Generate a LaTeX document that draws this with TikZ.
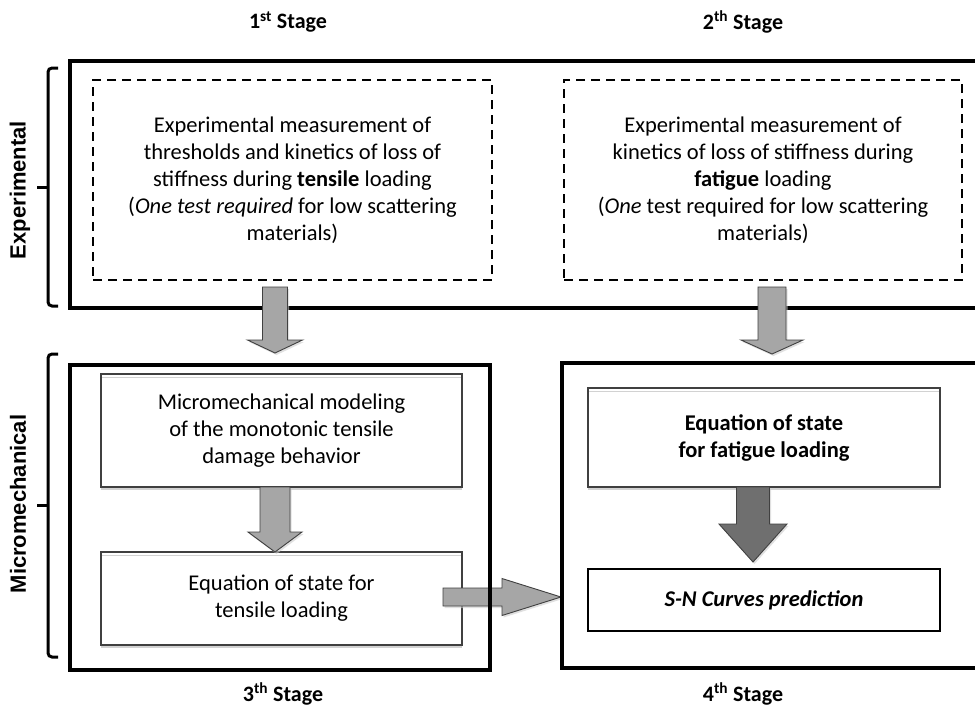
\documentclass[tikz,border=0pt]{standalone}
\usepackage{fontspec}
\setmainfont{Carlito}
\newfontfamily\sidefont{Liberation Sans}
\usetikzlibrary{calc,shadows}

\definecolor{arrowgray}{HTML}{A6A6A6}
\definecolor{arrowdark}{HTML}{6F6F6F}
\definecolor{edgegray}{HTML}{404040}

\newcommand\boxfont{\fontsize{22.5}{27}\selectfont}

% block arrows: [style]{from}{to}{half shaft}{half head}{head length}
\newcommand\vblock[6][blockarrow]{%
  \draw[#1] let \p1=(#2), \p2=(#3) in
    (\x1-#4,\y1) -- (\x1+#4,\y1) -- (\x1+#4,\y2+#6) -- (\x1+#5,\y2+#6) -- (\x1,\y2)
    -- (\x1-#5,\y2+#6) -- (\x1-#4,\y2+#6) -- cycle;}
\newcommand\hblock[6][blockarrow]{%
  \draw[#1] let \p1=(#2), \p2=(#3) in
    (\x1,\y1+#4) -- (\x2-#6,\y1+#4) -- (\x2-#6,\y1+#5) -- (\x2,\y1)
    -- (\x2-#6,\y1-#5) -- (\x2-#6,\y1-#4) -- (\x1,\y1-#4) -- cycle;}
% side bracket: {top end}{bottom end}
\newcommand\sidebracket[2]{%
  \draw[bracket, rounded corners=4pt] let \p1=(#1), \p2=(#2) in
    (\x1,\y1) -- (\x1-10pt,\y1) -- (\x1-10pt,\y2) -- (\x2,\y2);
  \draw[bracket] let \p1=(#1), \p2=(#2) in
    (\x1-10pt,{(\y1+\y2)/2}) -- (\x1-21pt,{(\y1+\y2)/2});}

\tikzset{
  frame/.style={draw, line width=3.5pt, inner sep=0pt},
  testbox/.style={draw, dashed, dash pattern=on 9pt off 6pt, line width=2pt,
    inner sep=0pt, align=center, font=\boxfont},
  modelbox/.style={draw=edgegray, line width=1.2pt, fill=white, inner sep=0pt,
    align=center, font=\boxfont,
    drop shadow={shadow xshift=0pt, shadow yshift=-3pt, fill=gray!35, opacity=1},
    path picture={\draw[gray!35, line width=1pt]
      ([yshift=-3.5pt]path picture bounding box.north west) --
      ([yshift=-3.5pt]path picture bounding box.north east);}},
  resultbox/.style={draw, line width=2pt, fill=white, inner sep=0pt, align=center,
    font=\boxfont\bfseries\itshape},
  blockarrow/.style={draw=edgegray, line width=0.9pt, fill=arrowgray,
    drop shadow={shadow xshift=1.5pt, shadow yshift=-2pt, fill=gray!40, opacity=0.6}},
  darkarrow/.style={blockarrow, fill=arrowdark},
  stage/.style={font=\fontsize{22}{26}\selectfont\bfseries},
  side/.style={font=\sidefont\fontsize{22}{26}\selectfont\bfseries, rotate=90},
  bracket/.style={line width=3pt}
}

\begin{document}
\begin{tikzpicture}[x=1pt, y=-1pt]
\clip (0,0) rectangle (975,710);
\fill[white] (0,0) rectangle (975,710);

% stages
\node[stage] (stI)   at (288,22)  {1\textsuperscript{st} Stage};
\node[stage] (stII)  at (743,22)  {2\textsuperscript{th} Stage};
\node[stage] (stIII) at (283,694) {3\textsuperscript{th} Stage};
\node[stage] (stIV)  at (743,694) {4\textsuperscript{th} Stage};

% experimental part
\node[frame, minimum width=930, minimum height=247] (expFrame) at (535,184.5) {};
\node[testbox, minimum width=399, minimum height=200] (tensTest) at (292.5,180)
  {Experimental measurement of\\ thresholds and kinetics of loss of\\
   stiffness during \textbf{tensile} loading\\
   (\textit{One test required} for low scattering\\ materials)};
\node[testbox, minimum width=398, minimum height=200] (fatTest) at (763,180)
  {Experimental measurement of\\ kinetics of loss of stiffness during\\
   \textbf{fatigue} loading\\
   (\textit{One} test required for low scattering\\ materials)};

% micromechanical part
\node[modelbox, minimum width=361, minimum height=113] (modelBox) at (281.5,430.5)
  {Micromechanical modeling\\ of the monotonic tensile\\ damage behavior};
\node[modelbox, minimum width=361, minimum height=93] (tensEq) at (281.5,598.5)
  {Equation of state for\\ tensile loading};
\node[modelbox, minimum width=352, minimum height=99] (fatEq) at (764,437.5)
  {\textbf{Equation of state}\\ \textbf{for fatigue loading}};
\node[resultbox, minimum width=352, minimum height=62] (snBox) at (764,600)
  {S-N Curves prediction};

\coordinate (a3s) at (275,487);  \coordinate (a3e) at (275,552);
\coordinate (a4s) at (753,487);  \coordinate (a4e) at (753,562);
\coordinate (a5s) at (443,597);  \coordinate (a5e) at (561,597);
\vblock{a3s}{a3e}{15pt}{27pt}{20pt}
\vblock[darkarrow]{a4s}{a4e}{16.5pt}{34pt}{38pt}
\hblock{a5s}{a5e}{9pt}{18.5pt}{59pt}

\node[frame, minimum width=420, minimum height=305] (monoFrame) at (280,517.5) {};
\node[frame, minimum width=438, minimum height=305] (fatFrame) at (781,515.5) {};

\coordinate (a1s) at (275,287);  \coordinate (a1e) at (275,353);
\coordinate (a2s) at (772,287);  \coordinate (a2e) at (772,354);
\vblock{a1s}{a1e}{12.5pt}{27.5pt}{13pt}
\vblock{a2s}{a2e}{14pt}{31pt}{14pt}

% side brackets
\coordinate (expTop) at (58,68);   \coordinate (expBot) at (58,306);
\coordinate (micTop) at (58,354);  \coordinate (micBot) at (58,657);
\sidebracket{expTop}{expBot}
\sidebracket{micTop}{micBot}
\node[side] (expLbl) at (20,190) {Experimental};
\node[side] (micLbl) at (18,504) {Micromechanical};
\end{tikzpicture}
\end{document}
